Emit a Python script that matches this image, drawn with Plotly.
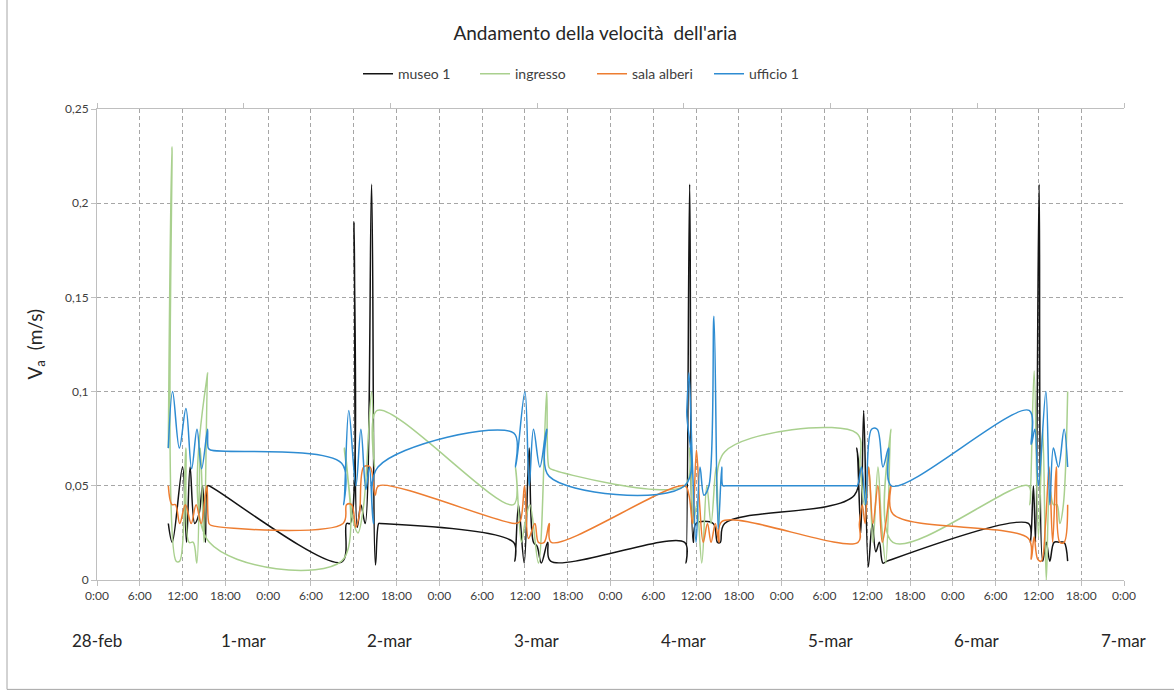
import pandas as pd
import plotly.graph_objects as go

# Reference instant for the readings (hours are counted from here)
START = pd.Timestamp("2021-02-28 00:00")

# museo 1 : reading times (hours from start) and air speed (m/s)
museo_h = [10.0, 10.55, 12.0, 12.55, 13.05, 13.7, 14.3, 14.8, 15.2, 15.5, 15.7,
           34.3, 35.0, 35.5, 36.05, 36.5, 37.0, 37.6, 38.5, 39.05, 39.5, 39.7,
           58.4, 58.6, 59.1, 59.9, 60.6, 61.2, 61.7, 62.3, 63.2, 63.6,
           82.4, 82.6, 83.1, 83.6, 84.0, 86.4, 87.0, 87.4, 88.0,
           106.2, 106.55, 107.1, 107.5, 108.15, 108.7, 109.2, 109.7, 110.2, 110.8,
           130.6, 130.9, 131.3, 131.6, 132.1, 132.6, 133.1, 133.6, 134.2, 135.0, 135.6, 136.1]
museo_v = [0.030, 0.020, 0.060, 0.020, 0.060, 0.030, 0.035, 0.050, 0.020, 0.050, 0.050,
           0.0095, 0.030, 0.030, 0.190, 0.028, 0.040, 0.030, 0.210, 0.008, 0.030, 0.030,
           0.020, 0.010, 0.040, 0.009, 0.070, 0.020, 0.018, 0.009, 0.020, 0.010,
           0.020, 0.009, 0.210, 0.020, 0.030, 0.030, 0.020, 0.020, 0.030,
           0.045, 0.070, 0.025, 0.090, 0.007, 0.030, 0.015, 0.020, 0.009, 0.010,
           0.030, 0.020, 0.050, 0.020, 0.210, 0.010, 0.020, 0.010, 0.020, 0.020, 0.020, 0.010]

# ingresso
ingresso_h = [10.0, 10.5, 11.1, 11.6, 12.45, 12.9, 13.5, 14.0, 14.5, 15.0, 15.5, 15.75,
              34.3, 34.7, 35.3, 36.0, 36.6, 37.4, 38.5, 38.9, 39.3,
              58.4, 58.7, 59.5, 60.0, 60.7, 61.9, 63.05, 63.35, 63.6,
              82.4, 83.1, 83.6, 84.1, 84.8, 85.5, 86.1, 86.8, 87.2, 88.0,
              106.5, 107.0, 107.6, 108.2, 108.8, 109.5, 110.0, 110.6, 111.3, 111.6,
              130.6, 130.8, 131.4, 132.0, 132.6, 133.1, 133.6, 134.1, 134.6, 135.0, 135.5, 136.1]
ingresso_v = [0.070, 0.230, 0.010, 0.010, 0.070, 0.020, 0.020, 0.009, 0.070, 0.020, 0.110, 0.020,
              0.010, 0.070, 0.050, 0.030, 0.025, 0.040, 0.100, 0.060, 0.090,
              0.040, 0.060, 0.020, 0.030, 0.040, 0.009, 0.100, 0.060, 0.059,
              0.050, 0.070, 0.030, 0.040, 0.009, 0.050, 0.030, 0.060, 0.030, 0.068,
              0.078, 0.060, 0.040, 0.060, 0.020, 0.060, 0.030, 0.009, 0.080, 0.020,
              0.050, 0.040, 0.111, 0.023, 0.080, 0.000, 0.048, 0.040, 0.040, 0.030, 0.040, 0.100]

# sala alberi
sala_h = [10.0, 10.5, 11.0, 11.6, 12.4, 13.2, 13.9, 14.6, 15.4, 15.7, 16.0,
          34.5, 35.0, 35.7, 36.3, 36.8, 37.4, 38.3, 39.0, 39.5,
          58.6, 59.3, 59.95, 60.5, 61.4, 61.9, 62.7, 63.4, 63.7,
          82.4, 83.0, 83.5, 84.05, 84.5, 85.0, 85.6, 86.1, 86.7, 87.2, 87.6,
          106.7, 106.9, 107.3, 107.7, 108.2, 108.8, 109.5, 110.1, 110.6, 111.3, 111.6,
          130.6, 131.0, 131.4, 131.9, 132.4, 133.0, 133.5, 134.0, 134.5, 135.0, 135.6, 136.1]
sala_v = [0.050, 0.040, 0.040, 0.030, 0.040, 0.030, 0.040, 0.030, 0.050, 0.030, 0.029,
          0.030, 0.040, 0.040, 0.028, 0.035, 0.060, 0.060, 0.045, 0.050,
          0.030, 0.031, 0.050, 0.022, 0.030, 0.020, 0.020, 0.030, 0.020,
          0.050, 0.045, 0.030, 0.069, 0.040, 0.020, 0.030, 0.020, 0.030, 0.020, 0.031,
          0.020, 0.030, 0.040, 0.030, 0.060, 0.030, 0.050, 0.020, 0.030, 0.050, 0.035,
          0.022, 0.011, 0.023, 0.011, 0.010, 0.030, 0.060, 0.020, 0.060, 0.020, 0.020, 0.040]

# ufficio 1
ufficio_h = [10.0, 10.6, 11.55, 12.47, 13.27, 14.02, 14.67, 15.5, 15.6, 15.9,
             34.3, 34.6, 35.3, 36.3, 37.0, 37.7, 38.2, 38.75, 39.4,
             58.45, 58.7, 60.0, 60.6, 61.2, 62.1, 63.05, 63.4,
             82.4, 82.7, 83.0, 83.5, 84.0, 84.55, 85.1, 85.8, 86.5, 87.1, 87.6, 87.75, 88.1,
             106.3, 106.6, 107.2, 107.8, 108.6, 109.4, 110.2, 111.0, 111.4,
             130.7, 131.0, 131.5, 132.0, 133.05, 133.6, 134.1, 134.8, 135.6, 136.1]
ufficio_v = [0.070, 0.100, 0.070, 0.091, 0.059, 0.080, 0.059, 0.080, 0.070, 0.069,
             0.062, 0.040, 0.090, 0.050, 0.080, 0.048, 0.060, 0.030, 0.060,
             0.078, 0.060, 0.100, 0.050, 0.080, 0.060, 0.080, 0.055,
             0.050, 0.090, 0.110, 0.060, 0.020, 0.060, 0.045, 0.050, 0.140, 0.027, 0.060, 0.050, 0.050,
             0.050, 0.050, 0.060, 0.040, 0.080, 0.080, 0.060, 0.070, 0.050,
             0.090, 0.072, 0.080, 0.050, 0.100, 0.040, 0.070, 0.060, 0.080, 0.060]

# Day labels written along the bottom of the chart
date_labels = ["28-feb", "1-mar", "2-mar", "3-mar", "4-mar", "5-mar", "6-mar", "7-mar"]

series = [
    ("museo 1", museo_h, museo_v, "#141414"),
    ("ingresso", ingresso_h, ingresso_v, "#A9D08E"),
    ("sala alberi", sala_h, sala_v, "#ED7D31"),
    ("ufficio 1", ufficio_h, ufficio_v, "#2E8CD2"),
]

FONT = "Lato, 'Open Sans', sans-serif"
AXIS_GREY = "#BFBFBF"
GRID_GREY = "#A6A6A6"
TEXT_GREY = "#404040"

fig = go.Figure()
for name, hrs, vals, color in series:
    fig.add_trace(go.Scatter(
        x=[START + pd.Timedelta(hours=t) for t in hrs],
        y=vals,
        mode="lines",
        name=name,
        line=dict(color=color, width=1.5, shape="spline", smoothing=1),
    ))

fig.update_layout(
    width=1174,
    height=698,
    autosize=False,
    paper_bgcolor="white",
    plot_bgcolor="white",
    separators=",.",
    margin=dict(l=97, r=50, t=109, b=118),
    font=dict(family=FONT, color=TEXT_GREY, size=12),
    title=dict(
        text="Andamento della velocità&nbsp;&nbsp;dell'aria",
        x=0.507, xanchor="center", xref="container",
        y=1 - 33 / 698, yanchor="middle", yref="container",
        font=dict(family=FONT, size=19, color="#262626"),
    ),
    legend=dict(
        orientation="h",
        x=0.482, xanchor="center",
        y=1.074, yanchor="middle",
        font=dict(family=FONT, size=14, color=TEXT_GREY),
        bgcolor="rgba(0,0,0,0)",
        itemwidth=30,
        entrywidth=72,
        entrywidthmode="pixels",
    ),
    xaxis=dict(
        type="date",
        range=[START, START + pd.Timedelta(days=6)],
        dtick=6 * 3600 * 1000,
        tick0=START,
        tickformat="%-H:%M",
        showgrid=True,
        gridcolor=GRID_GREY,
        griddash="4px,3px",
        gridwidth=1,
        showline=True,
        linecolor=AXIS_GREY,
        linewidth=1,
        ticks="outside",
        ticklen=5,
        tickcolor=AXIS_GREY,
        tickfont=dict(family=FONT, size=12, color=TEXT_GREY),
        zeroline=False,
    ),
    xaxis2=dict(
        overlaying="x",
        side="top",
        anchor="y",
        range=[0, len(date_labels) - 1],
        tickvals=list(range(len(date_labels))),
        showticklabels=False,
        ticks="outside",
        ticklen=5,
        tickcolor=AXIS_GREY,
        showline=True,
        linecolor=AXIS_GREY,
        linewidth=1,
        showgrid=False,
        zeroline=False,
    ),
    yaxis=dict(
        range=[0, 0.25],
        dtick=0.05,
        showgrid=True,
        gridcolor=GRID_GREY,
        griddash="4px,3px",
        gridwidth=1,
        showline=True,
        linecolor=AXIS_GREY,
        linewidth=1,
        ticks="outside",
        ticklen=5,
        tickcolor=AXIS_GREY,
        tickfont=dict(family=FONT, size=12, color=TEXT_GREY),
        zeroline=False,
    ),
)

# Day labels under the hour ticks, spread on the top category scale
for i, lab in enumerate(date_labels):
    fig.add_annotation(
        x=i, xref="x2", y=0, yref="paper", yshift=-60,
        text=lab, showarrow=False,
        font=dict(family=FONT, size=17, color="#262626"),
        xanchor="center", yanchor="middle",
    )

# Axis title V_a (m/s)
fig.add_annotation(
    x=(35 - 97) / 1027, xref="paper", y=0.5, yref="paper",
    text="V<sub>a</sub>&nbsp;&nbsp;(m/s)", showarrow=False, textangle=-90,
    font=dict(family=FONT, size=19, color="#262626"),
    xanchor="center", yanchor="middle",
)

# Chart-area frame
fig.add_shape(
    type="rect", xref="paper", yref="paper",
    x0=(7 - 97) / 1027, y0=(580.5 - 690) / 471.5, x1=1.6, y1=1.4,
    line=dict(color="#A6A6A6", width=1), fillcolor="rgba(0,0,0,0)", layer="below",
)

fig.write_html("out.html")
